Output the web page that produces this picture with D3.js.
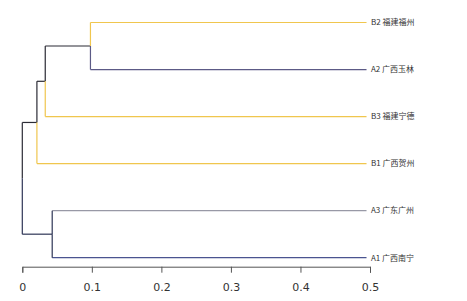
<!DOCTYPE html>
<html>
<head>
<meta charset="utf-8">
<script src="https://cdn.jsdelivr.net/npm/d3@7"></script>
<style>
  body { margin: 0; background: #fff; }
  svg { display: block; }
</style>
</head>
<body>
<div id="chart"></div>
<script>
// leaves, top to bottom
var leafLabels = ["B2 福建福州", "A2 广西玉林", "B3 福建宁德", "B1 广西贺州", "A3 广东广州", "A1 广西南宁"];
var leafGroup = ["B", "A2", "B", "B", "A3", "A1"];
// merges: [childA, childB, height]  (ids >= 6 are earlier merges)
var merges = [
  [0, 1, 0.098],
  [6, 2, 0.033],
  [7, 3, 0.021],
  [4, 5, 0.043],
  [8, 9, 0]
];
var leafEnd = 0.495;
var tickValues = [0, 0.1, 0.2, 0.3, 0.4, 0.5];

var width = 467, height = 301;
var colors = { B: "#f0c64e", A2: "#5c5a86", A3: "#9899a6", A1: "#4a5490", mixed: "#2b2b35", Anode: "#2e3556" };

var svg = d3.select("#chart").append("svg")
    .attr("width", width)
    .attr("height", height);

var x = d3.scaleLinear().domain([0, 0.5]).range([22.3, 370]);
var y = d3.scalePoint().domain(d3.range(leafLabels.length)).range([22.5, 257.7]);

// build nodes
var nodes = leafLabels.map((l, i) => ({ id: i, h: leafEnd, y: y(i), color: colors[leafGroup[i]], vcolor: colors[leafGroup[i]] }));
merges.forEach((m, i) => {
  var a = nodes[m[0]], b = nodes[m[1]];
  var same = a.group !== undefined ? a.group : leafGroup[a.id];
  var gb = b.group !== undefined ? b.group : leafGroup[b.id];
  var grp = (same === gb) ? same : (same[0] === "A" && gb[0] === "A" ? "A" : "mixed");
  var col = grp === "A" ? colors.Anode : (colors[grp] || colors.mixed);
  var n = { id: leafLabels.length + i, h: m[2], y: (a.y + b.y) / 2, children: [a, b], group: grp, color: col, vcolor: col };
  a.parent = n; b.parent = n;
  nodes.push(n);
});

var g = svg.append("g").attr("fill", "none").attr("stroke-width", 1.2);

nodes.forEach(n => {
  if (n.parent) {
    // horizontal from parent merge to node
    g.append("line")
      .attr("x1", x(n.parent.h)).attr("x2", x(n.h))
      .attr("y1", n.y).attr("y2", n.y)
      .attr("stroke", n.color);
  }
  if (n.children) {
    var a = n.children[0], b = n.children[1];
    var ca = a.children ? a.vcolor : (n.group === "A" ? n.color : a.color);
    var cb = b.children ? b.vcolor : (n.group === "A" ? n.color : b.color);
    g.append("line")
      .attr("x1", x(n.h)).attr("x2", x(n.h))
      .attr("y1", a.y).attr("y2", n.y)
      .attr("stroke", ca);
    g.append("line")
      .attr("x1", x(n.h)).attr("x2", x(n.h))
      .attr("y1", n.y).attr("y2", b.y)
      .attr("stroke", cb);
  }
});

// leaf labels
svg.append("g").selectAll("text")
  .data(leafLabels)
  .enter().append("text")
  .attr("x", x(0.5) + 1)
  .attr("y", (d, i) => y(i))
  .attr("dy", "0.35em")
  .style("font-family", "'Noto Sans CJK SC', 'DejaVu Sans', sans-serif")
  .style("font-size", "8px")
  .style("fill", "#333")
  .text(d => d);

// axis
var axis = svg.append("g")
  .attr("transform", "translate(0,266.7)")
  .call(d3.axisBottom(x).tickValues(tickValues).tickFormat(d => d === 0 ? "0" : d3.format(".1f")(d)).tickSize(6).tickPadding(11));

axis.select(".domain").attr("stroke", "#555");
axis.selectAll(".tick line").attr("stroke", "#555");
axis.selectAll("text")
  .style("font-family", "'DejaVu Sans', sans-serif")
  .style("font-size", "11px")
  .attr("fill", "#333");
</script>
</body>
</html>
